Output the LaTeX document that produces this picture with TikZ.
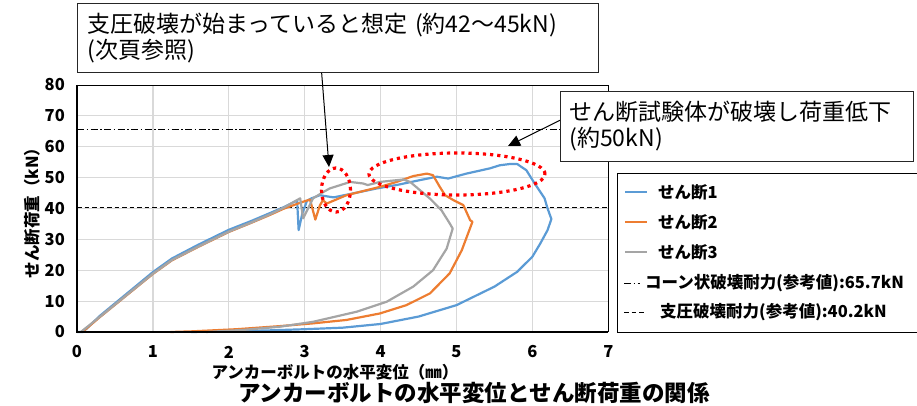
\documentclass[tikz,border=0pt]{standalone}
\usepackage{fontspec}
\setmainfont{Noto Sans CJK JP}
\usetikzlibrary{arrows.meta}
\definecolor{serA}{HTML}{5B9BD5}
\definecolor{serB}{HTML}{ED7D31}
\definecolor{serC}{HTML}{A5A5A5}
\definecolor{gridgray}{HTML}{D9D9D9}
\tikzset{
  gridline/.style={gridgray,line width=1.2pt},
  axisline/.style={black,line width=2pt},
  series/.style={line width=2.2pt,line join=round},
  conecap/.style={black,line width=0.9pt,dash pattern=on 7pt off 2.5pt on 1.5pt off 2.5pt},
  bearcap/.style={black,line width=0.9pt,dash pattern=on 4.5pt off 3pt},
  reddot/.style={red,line width=3.2pt,dash pattern=on 3.2pt off 4pt},
  ticklbl/.style={font=\fontsize{16.5}{16.5}\selectfont\bfseries,inner sep=0pt},
  legtxt/.style={font=\fontsize{16.5}{16.5}\selectfont\bfseries,inner sep=0pt,anchor=west},
  callbox/.style={draw=black!85,line width=0.9pt,fill=white,anchor=north west,align=left,
    inner xsep=10pt,font=\fontsize{23}{26}\selectfont},
  callarrow/.style={black,line width=1pt,-{Triangle[length=12pt,width=11pt]}}
}
\begin{document}
\begin{tikzpicture}[x=1pt,y=-1pt]
\useasboundingbox (0,0) rectangle (917,406);
\begin{scope}[shift={(77,332)},x=75.9pt,y=3.0875pt]
\foreach \gx in {1,...,6} \draw[gridline] (\gx,0) -- (\gx,80);
\foreach \gy in {10,20,...,70} \draw[gridline] (0,\gy) -- (7,\gy);
\draw[line width=0.8pt] (0,80) -- (7,80) -- (7,0);
\draw[conecap] (0,65.7) -- (7,65.7);
\draw[bearcap] (0,40.2) -- (7,40.2);
\draw[series,serA] (0,0) -- (0.08,0) -- (0.3,5.2) -- (0.6,11.3) -- (1.0,19.4) -- (1.25,23.8)
  -- (1.6,28.3) -- (2.0,33.1) -- (2.3,36) -- (2.55,38.6) -- (2.72,40.4) -- (2.9,42.6)
  -- (2.92,33) -- (2.97,38.5) -- (3.03,42.5) -- (3.09,43.3) -- (3.2,44.3) -- (3.38,43.6)
  -- (3.64,44.9) -- (3.95,46.5) -- (4.21,47.6) -- (4.52,49.2) -- (4.74,50.3) -- (4.89,49.7)
  -- (5.13,51.3) -- (5.44,53) -- (5.57,54) -- (5.7,54.4) -- (5.8,54.4) -- (5.92,52.4)
  -- (6.03,48.1) -- (6.16,43.3) -- (6.2,40) -- (6.25,36.6) -- (6.2,33) -- (6.1,28.5)
  -- (6.0,24.4) -- (5.8,19.5) -- (5.5,14.7) -- (5.0,8.7) -- (4.5,5) -- (4.0,2.6)
  -- (3.5,1.4) -- (3.0,0.9) -- (2.5,0.5) -- (2.0,0.2) -- (1.5,0);
\draw[series,serB] (0.07,0) -- (0.3,4.8) -- (0.6,10.8) -- (1.0,18.8) -- (1.25,23.2)
  -- (1.6,27.6) -- (2.0,32.4) -- (2.3,35.4) -- (2.55,38) -- (2.72,39.9) -- (2.98,42.2)
  -- (3.07,42.9) -- (3.14,36.4) -- (3.2,41) -- (3.24,42.7) -- (3.29,41.6) -- (3.55,44.3)
  -- (3.99,47) -- (4.21,48.6) -- (4.43,50.5) -- (4.61,51.3) -- (4.69,50.8) -- (4.78,47)
  -- (4.85,44.3) -- (4.96,42.7) -- (5.09,41.1) -- (5.18,36.2) -- (5.21,35.7) -- (5.07,26.5)
  -- (4.91,19) -- (4.65,12.5) -- (4.34,8.7) -- (3.99,6) -- (3.55,3.9) -- (3.11,2.8)
  -- (2.67,1.9) -- (2.1,0.9) -- (1.5,0.2) -- (1.23,0);
\draw[series,serC] (0.05,0) -- (0.3,4.9) -- (0.6,10.9) -- (1.0,18.9) -- (1.25,23.3)
  -- (1.6,27.7) -- (2.0,32.5) -- (2.3,35.5) -- (2.55,38.2) -- (2.72,40.2) -- (2.94,43.3)
  -- (2.98,36.8) -- (3.11,43.3) -- (3.25,45.4) -- (3.33,46.5) -- (3.6,48.6) -- (3.77,48.1)
  -- (3.83,47.6) -- (3.99,48.6) -- (4.3,49.4) -- (4.39,48.6) -- (4.52,45.9) -- (4.65,43.2)
  -- (4.8,39.5) -- (4.91,35.2) -- (4.95,33.5) -- (4.87,27) -- (4.69,20) -- (4.43,14.7)
  -- (4.08,9.8) -- (3.69,6.6) -- (3.11,3.3) -- (2.67,1.7) -- (2.2,0.7) -- (1.7,0);
\draw[axisline] (0,80) -- (0,0) -- (7,0);
\foreach \gx in {0,...,7} \node[ticklbl,yshift=-20pt] (xt\gx) at (\gx,0) {\gx};
\foreach \gy in {0,10,...,80} \node[ticklbl,anchor=east,xshift=-12pt] (yt\gy) at (0,\gy) {\gy};
\end{scope}
\node[font=\fontsize{16.5}{16.5}\selectfont\bfseries] (xlab) at (335,372) {アンカーボルトの水平変位（㎜）};
\node[font=\fontsize{16.5}{16.5}\selectfont\bfseries,rotate=90] (ylab) at (32,209) {せん断荷重（kN）};
\node[font=\fontsize{22.5}{22.5}\selectfont\bfseries] (title) at (474,393) {アンカーボルトの水平変位とせん断荷重の関係};
\draw[reddot] (336,190) ellipse [x radius=14.5pt,y radius=22pt];
\draw[reddot] (457,174) ellipse [x radius=88pt,y radius=21pt];
\node[callbox,text width=501pt,minimum height=69pt] (boxA) at (77,3)
  {支圧破壊が始まっていると想定 (約42〜45kN)\\(次頁参照)};
\node[callbox,text width=335pt,inner xsep=9pt,minimum height=70pt] (boxB) at (560,91)
  {せん断試験体が破壊し荷重低下\\(約50kN)};
\coordinate (tipA) at (329,167);
\coordinate (tipB) at (508,146);
\draw[callarrow] (boxA.-115.6) -- (tipA);
\draw[callarrow] (boxB.178) -- (tipB);
\node[draw,line width=0.8pt,fill=white,anchor=north west,minimum width=302pt,minimum height=159pt] (legbox) at (617,173) {};
\node[legtxt] (lgA) at (658,192) {せん断1};
\node[legtxt] (lgB) at (658,222) {せん断2};
\node[legtxt] (lgC) at (658,252) {せん断3};
\node[legtxt] (lgD) at (645,283) {コーン状破壊耐力(参考値):65.7kN};
\node[legtxt] (lgE) at (660,312) {支圧破壊耐力(参考値):40.2kN};
\draw[series,serA] ([xshift=-33pt]lgA.west) -- ([xshift=-11pt]lgA.west);
\draw[series,serB] ([xshift=-33pt]lgB.west) -- ([xshift=-11pt]lgB.west);
\draw[series,serC] ([xshift=-33pt]lgC.west) -- ([xshift=-11pt]lgC.west);
\draw[conecap] ([xshift=-21pt]lgD.west) -- ([xshift=-5pt]lgD.west);
\draw[bearcap] ([xshift=-36pt]lgE.west) -- ([xshift=-15pt]lgE.west);
\end{tikzpicture}
\end{document}
